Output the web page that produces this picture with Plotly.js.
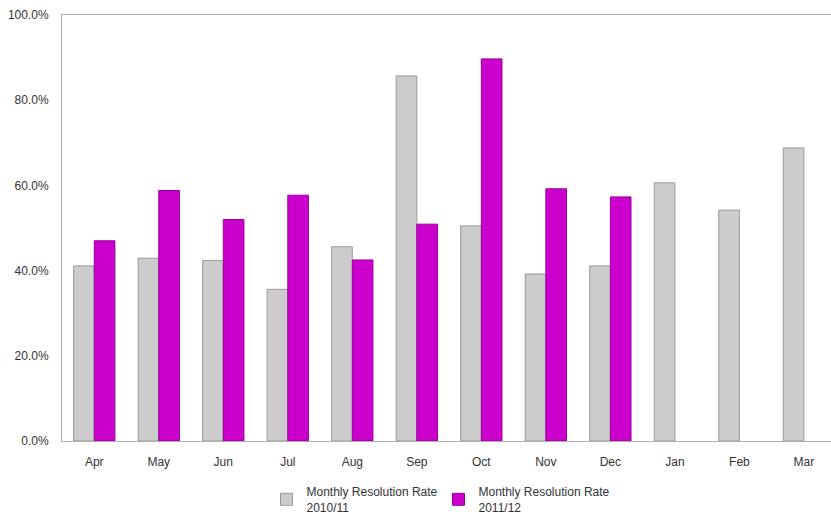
<!DOCTYPE html>
<html>
<head>
<meta charset="utf-8">
<script src="https://cdn.plot.ly/plotly-3.0.1.min.js"></script>
<style>html,body{margin:0;padding:0;background:#fff;}#chart{width:831px;height:518px;}</style>
</head>
<body>
<div id="chart"></div>
<script>
const months = ["Apr","May","Jun","Jul","Aug","Sep","Oct","Nov","Dec","Jan","Feb","Mar"];
const rate2010 = [41.1, 42.9, 42.4, 35.6, 45.6, 85.7, 50.5, 39.2, 41.1, 60.6, 54.2, 68.8];
const rate2011 = [47.0, 58.8, 52.0, 57.7, 42.5, 50.9, 89.7, 59.2, 57.3, null, null, null];
const seriesNames = ["Monthly Resolution Rate<br>2010/11", "Monthly Resolution Rate<br>2011/12"];
const yTicks = [0, 20, 40, 60, 80, 100];
const yTickText = yTicks.map(v => v.toFixed(1) + "%");

const traces = [
  {type:"bar", x:months, y:rate2010, name:seriesNames[0],
   marker:{color:"#cccccc", line:{color:"#999999", width:1}}, hoverinfo:"skip"},
  {type:"bar", x:months, y:rate2011, name:seriesNames[1],
   marker:{color:"#cc00cc", line:{color:"#990099", width:1}}, hoverinfo:"skip"}
];

const layout = {
  width:831, height:518,
  margin:{l:62, r:0, t:15, b:77, pad:0, autoexpand:false},
  paper_bgcolor:"#ffffff", plot_bgcolor:"#ffffff",
  font:{family:"Liberation Sans, Arial, sans-serif", size:12, color:"#333333"},
  barmode:"group", bargap:0.36, bargroupgap:0,
  showlegend:true,
  legend:{orientation:"h", x:0.4896, xanchor:"center", y:-0.085, yanchor:"top",
          font:{size:12, color:"#333333"}, traceorder:"normal", itemwidth:30,
          entrywidth:127, entrywidthmode:"pixels"},
  xaxis:{type:"category", range:[-0.5, 11.42], showgrid:false, zeroline:false,
         showline:true, linecolor:"#b0b0b0", linewidth:1, mirror:true,
         ticks:"", ticklen:0, tickfont:{size:12, color:"#333333"}, ticklabelstandoff:10},
  yaxis:{range:[0,100], tickvals:yTicks, ticktext:yTickText,
         showgrid:false, zeroline:false, showline:true, linecolor:"#b0b0b0", linewidth:1, mirror:true,
         ticks:"", tickfont:{size:12, color:"#333333"}, ticklabelstandoff:10}
};

Plotly.newPlot("chart", traces, layout, {staticPlot:true, displayModeBar:false});
</script>
</body>
</html>
